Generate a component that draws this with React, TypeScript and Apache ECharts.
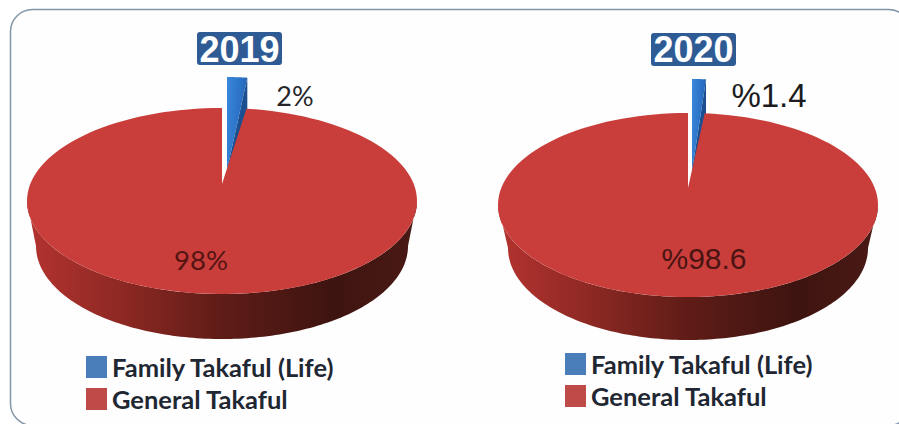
import React, { useEffect, useRef } from "react";
import * as echarts from "echarts";

const years = ["2019", "2020"];
const familyShare = [2, 1.4];
const generalShare = [98, 98.6];
const familyLabels = ["2%", "%1.4"];
const generalLabels = ["98%", "%98.6"];
const seriesNames = ["Family Takaful (Life)", "General Takaful"];

const FAMILY_LEGEND = "#4a7ebb";
const GENERAL_LEGEND = "#be4b48";
const GENERAL_FACE = "#c93e3b";

// Geometry of the two tilted discs: the rim's lower edge is narrower than the
// top face, and the pulled-out slice sits further back, so it draws narrower.
const discs = [
  { cx: 222, cy: 201, rx: 195, ry: 93, depth: 45, rimRx: 186, apexLift: 17, liftX: 5, liftY: -31, sliceScale: 0.83 },
  { cx: 688, cy: 205, rx: 190, ry: 92, depth: 43, rimRx: 180, apexLift: 17, liftX: 4, liftY: -34, sliceScale: 0.84 },
];

// Outline of an elliptical arc; angles are clockwise from twelve o'clock
function arc(
  d: any,
  from: number,
  to: number,
  { ox = 0, oy = 0, rx = d.rx, steps = 140 }: { ox?: number; oy?: number; rx?: number; steps?: number } = {},
) {
  const pts: number[][] = [];
  for (let i = 0; i <= steps; i++) {
    const a = from + ((to - from) * i) / steps;
    pts.push([d.cx + ox + rx * Math.sin(a), d.cy + oy - d.ry * Math.cos(a)]);
  }
  return pts;
}

const sideGradient = () =>
  new echarts.graphic.LinearGradient(0, 0, 1, 0, [
    { offset: 0, color: "#b4332f" },
    { offset: 0.25, color: "#8c2823" },
    { offset: 0.5, color: "#5f1c17" },
    { offset: 0.78, color: "#3e1410" },
    { offset: 1, color: "#4a1a15" },
  ]);

const familyGradient = () =>
  new echarts.graphic.LinearGradient(0, 0, 1, 0.3, [
    { offset: 0, color: "#3a88dc" },
    { offset: 0.7, color: "#2a70c4" },
    { offset: 1, color: "#2460aa" },
  ]);

function renderGeneral(_: any, api: any) {
  const d = discs[api.value(0)];
  const start = (familyShare[api.value(0)] / 100) * 2 * Math.PI;
  const sweep = (api.value(1) / 100) * 2 * Math.PI;
  const rimTop = arc(d, Math.PI / 2, (3 * Math.PI) / 2);
  const rimBottom = arc(d, (3 * Math.PI) / 2, Math.PI / 2, { oy: d.depth, rx: d.rimRx });
  return {
    type: "group",
    children: [
      {
        type: "polygon",
        shape: { points: [...rimTop, ...rimBottom] },
        style: { fill: sideGradient() },
      },
      {
        type: "polygon",
        shape: { points: [[d.cx, d.cy - d.apexLift], ...arc(d, start, start + sweep)] },
        style: { fill: GENERAL_FACE },
      },
    ],
  };
}

function renderFamily(_: any, api: any) {
  const d = discs[api.value(0)];
  const sweep = (api.value(1) / 100) * 2 * Math.PI;
  const apex = [d.cx + d.liftX, d.cy + d.liftY];
  const face = arc(d, 0, sweep, { ox: d.liftX, oy: d.liftY, rx: d.rx * d.sliceScale, steps: 12 });
  const outer = face[face.length - 1];
  return {
    type: "group",
    children: [
      {
        // Cut wall below the slice; the red face hides most of it
        type: "polygon",
        shape: {
          points: [apex, outer, [outer[0], outer[1] + d.depth], [apex[0], apex[1] + d.depth]],
        },
        style: { fill: "#1c4f8f" },
      },
      {
        type: "polygon",
        shape: { points: [apex, ...face] },
        style: { fill: familyGradient() },
      },
    ],
  };
}

const text = (
  content: string,
  x: number,
  y: number,
  fontSize: number,
  fontFamily: string,
  fill: string,
  fontWeight: any = "normal",
) => ({
  type: "text",
  z: 10,
  x,
  y,
  style: {
    text: content,
    fontSize,
    fontFamily,
    fontWeight,
    fill,
    textAlign: "center",
    textVerticalAlign: "middle",
  },
});

const legend = (left: number, top: number) => ({
  left,
  top,
  orient: "vertical",
  padding: 0,
  itemWidth: 21,
  itemHeight: 22,
  itemGap: 6,
  selectedMode: false,
  textStyle: {
    fontFamily: "Lato",
    fontWeight: "bold",
    fontSize: 25.5,
    lineHeight: 22,
    color: "#1f2733",
  },
  data: [
    { name: seriesNames[0], icon: "rect", itemStyle: { color: FAMILY_LEGEND } },
    { name: seriesNames[1], icon: "rect", itemStyle: { color: GENERAL_LEGEND } },
  ],
});

const titleBoxes = [
  { x: 197, y: 32, width: 85, height: 33 },
  { x: 651, y: 33, width: 85, height: 33 },
];

export default function App() {
  const ref = useRef<HTMLDivElement>(null);

  useEffect(() => {
    const chart = echarts.init(ref.current!, undefined, { renderer: "svg" });
    chart.setOption({
      animation: false,
      backgroundColor: "#ffffff",
      legend: [legend(86, 354), legend(565, 351)],
      graphic: [
        {
          type: "rect",
          z: 0,
          shape: { x: 10.5, y: 9.5, width: 900, height: 416, r: 22 },
          style: { fill: "#fefefe", stroke: "#8296aa", lineWidth: 1.5 },
        },
        ...titleBoxes.map((b) => ({
          type: "rect",
          z: 9,
          shape: { ...b, r: 3 },
          style: { fill: "#2f5b95" },
        })),
        text(years[0], 239.5, 49.5, 36, "Liberation Sans", "#ffffff", "bold"),
        text(years[1], 693.5, 49.5, 36, "Liberation Sans", "#ffffff", "bold"),
        text(familyLabels[0], 295, 95, 27, "Lato", "#26262a"),
        text(familyLabels[1], 769, 95, 33, "Liberation Sans", "#1c1c20"),
        text(generalLabels[0], 201, 259.5, 27.5, "Lato", "#551412"),
        text(generalLabels[1], 704, 258, 30, "Liberation Sans", "#4a1412"),
      ],
      series: [
        {
          type: "custom",
          name: seriesNames[0],
          coordinateSystem: "none",
          itemStyle: { color: FAMILY_LEGEND },
          renderItem: renderFamily,
          data: familyShare.map((v, i) => [i, v]),
          z: 2,
        },
        {
          type: "custom",
          name: seriesNames[1],
          coordinateSystem: "none",
          itemStyle: { color: GENERAL_LEGEND },
          renderItem: renderGeneral,
          data: generalShare.map((v, i) => [i, v]),
          z: 3,
        },
      ],
    });
    return () => chart.dispose();
  }, []);

  return (
    <div
      ref={ref}
      style={{ position: "fixed", left: 0, top: 0, width: 899, height: 424 }}
    />
  );
}
